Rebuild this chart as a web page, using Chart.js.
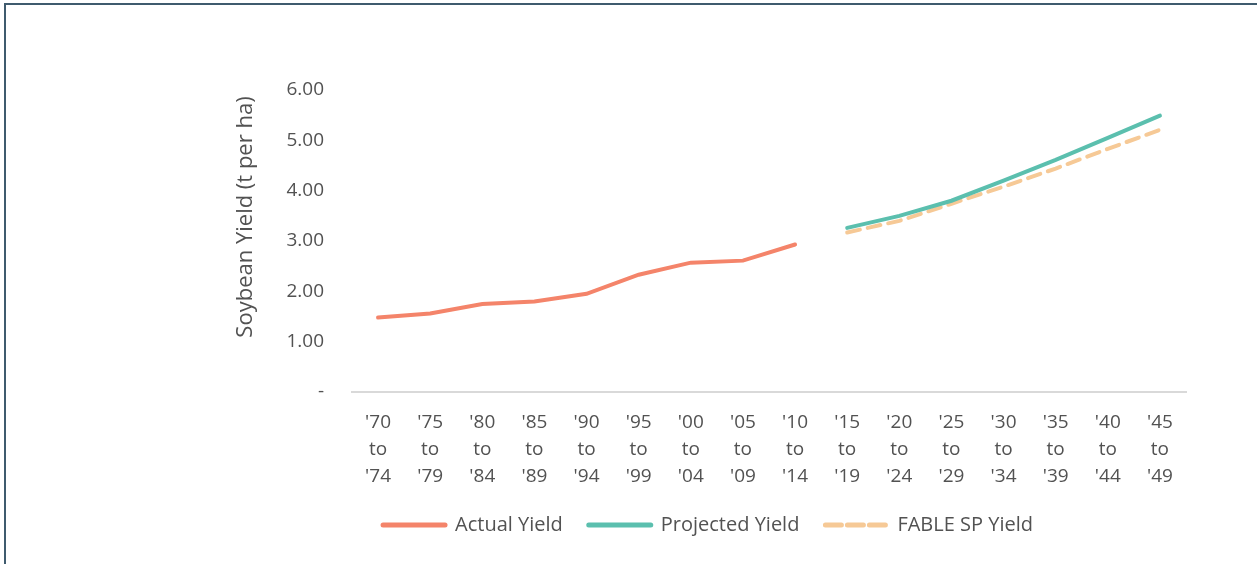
<!DOCTYPE html>
<html>
<head>
<meta charset="utf-8">
<script src="https://cdn.jsdelivr.net/npm/chart.js@4"></script>
<style>
  html, body { margin:0; padding:0; background:#fff; }
  .frame { position:absolute; left:4px; top:3px; width:1253px; height:561px;
           border-left:2px solid #3f5b6e; border-top:2px solid #3f5b6e; box-sizing:border-box; }
  .wrap { position:absolute; left:0; top:0; width:1257px; height:564px; }
</style>
</head>
<body>
<div class="frame"></div>
<div class="wrap"><canvas id="chart" width="1257" height="564"></canvas></div>
<script>
const periods = [
  ["'70","to","'74"], ["'75","to","'79"], ["'80","to","'84"], ["'85","to","'89"],
  ["'90","to","'94"], ["'95","to","'99"], ["'00","to","'04"], ["'05","to","'09"],
  ["'10","to","'14"], ["'15","to","'19"], ["'20","to","'24"], ["'25","to","'29"],
  ["'30","to","'34"], ["'35","to","'39"], ["'40","to","'44"], ["'45","to","'49"]
];
const actualYield    = [1.48, 1.56, 1.75, 1.80, 1.95, 2.33, 2.57, 2.61, 2.93, null, null, null, null, null, null, null];
const projectedYield = [null, null, null, null, null, null, null, null, null, 3.26, 3.50, 3.80, 4.20, 4.61, 5.05, 5.49];
const fableYield     = [null, null, null, null, null, null, null, null, null, 3.17, 3.40, 3.74, 4.08, 4.44, 4.83, 5.21];
const yTicks = [0, 1, 2, 3, 4, 5, 6];
const yTitle = "Soybean Yield (t per ha)";

const textColor = "#525252";
const font = "'Open Sans', 'Noto Sans', sans-serif";

// y title drawn by hand so it sits where the original had it
const yTitlePlugin = {
  id: "yTitle",
  afterDraw(chart) {
    const ctx = chart.ctx;
    ctx.save();
    ctx.translate(246, 217);
    ctx.rotate(-Math.PI / 2);
    ctx.font = "22px " + font;
    ctx.fillStyle = textColor;
    ctx.textAlign = "center";
    ctx.textBaseline = "middle";
    ctx.fillText(yTitle, 0, 0);
    ctx.restore();
  }
};

new Chart(document.getElementById("chart"), {
  type: "line",
  data: {
    labels: periods,
    datasets: [
      { label: "Actual Yield", data: actualYield, borderColor: "#f4846a", backgroundColor: "#f4846a",
        borderWidth: 4, pointRadius: 0, tension: 0, borderCapStyle: "round" },
      { label: "Projected Yield", data: projectedYield, borderColor: "#5bbfae", backgroundColor: "#5bbfae",
        borderWidth: 4, pointRadius: 0, tension: 0, borderCapStyle: "round" },
      { label: "FABLE SP Yield", data: fableYield, borderColor: "#f6c996", backgroundColor: "#f6c996",
        borderWidth: 4, pointRadius: 0, tension: 0, borderDash: [13, 8], borderCapStyle: "round" }
    ]
  },
  options: {
    responsive: false,
    animation: false,
    layout: { padding: { top: 90, right: 71, left: 230, bottom: 19 } },
    plugins: {
      tooltip: { enabled: false },
      legend: {
        position: "bottom",
        labels: {
          usePointStyle: true,
          pointStyle: "line",
          pointStyleWidth: 62,
          boxWidth: 62,
          boxHeight: 5,
          padding: 26,
          color: textColor,
          font: { family: font, size: 20 },
          generateLabels(chart) {
            return chart.data.datasets.map((ds, i) => ({
              text: ds.label,
              fillStyle: ds.borderColor,
              strokeStyle: ds.borderColor,
              lineWidth: 5,
              lineDash: ds.borderDash ? [16, 6] : [],
              lineCap: "round",
              pointStyle: "line",
              datasetIndex: i,
              fontColor: textColor
            }));
          }
        }
      }
    },
    scales: {
      x: {
        offset: true,
        grid: { display: false, drawTicks: false },
        border: { display: true, color: "#d9d9d9", width: 2 },
        ticks: {
          color: textColor, font: { family: font, size: 19, lineHeight: 1.42 },
          maxRotation: 0, autoSkip: false, padding: 17
        },
        afterFit(axis) { axis.height = 97; }
      },
      y: {
        min: 0, max: 6,
        grid: { display: false, drawTicks: false },
        border: { display: false },
        afterBuildTicks(axis) { axis.ticks = yTicks.map(v => ({ value: v })); },
        ticks: {
          color: textColor, font: { family: font, size: 19 }, padding: 28,
          callback: v => v === 0 ? "-" : v.toFixed(2)
        },
        afterFit(axis) { axis.width = 122; }
      }
    }
  },
  plugins: [yTitlePlugin]
});
</script>
</body>
</html>
